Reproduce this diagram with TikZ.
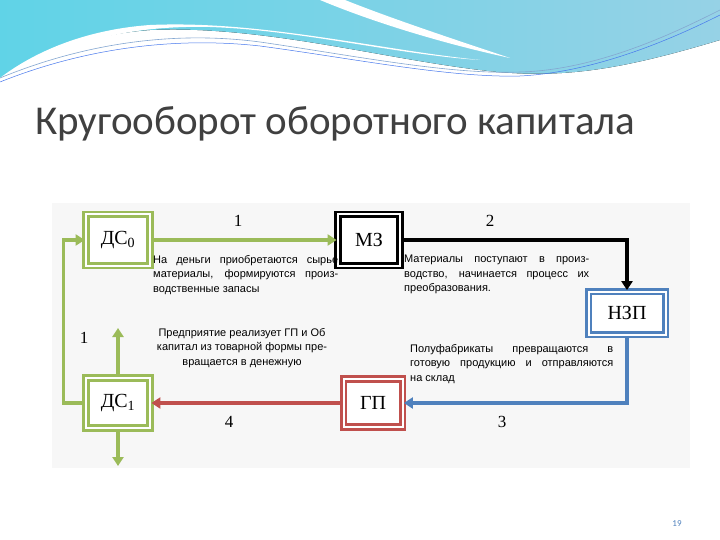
\documentclass[tikz,border=0pt]{standalone}
\usepackage{fontspec}
\setmainfont{Liberation Serif}
\newfontfamily\ttl{Carlito}
\newfontfamily\smf{Liberation Sans}
\usetikzlibrary{arrows.meta,positioning}
\definecolor{gr}{RGB}{155,187,89}
\definecolor{bl}{RGB}{79,129,189}
\definecolor{rd}{RGB}{192,80,77}
\definecolor{cy1}{RGB}{120,200,225}
\definecolor{cy2}{RGB}{150,210,230}
\newcommand{\jl}[2]{\makebox[#1][s]{#2}}
\begin{document}
\begin{tikzpicture}[x=1pt,y=-1pt,
 boxg/.style={double distance=2pt,line width=2.8pt,inner sep=0pt,font=\fontsize{20}{20}\selectfont},
 arr/.style={line width=3.5pt,-{Triangle[length=9pt,width=11pt]}},
 txt/.style={font=\smf\fontsize{11}{14.5}\selectfont,inner sep=0pt,align=left},
 num/.style={font=\fontsize{17}{17}\selectfont}]
\useasboundingbox (0,0) rectangle (720,540);
\fill[white] (0,0) rectangle (720,540);
% top wave
\fill[left color=cy1!80!cyan,right color=cy2] (0,0) -- (720,0) -- (720,40) .. controls (620,70) and (560,80) .. (480,70) .. controls (380,58) and (260,25) .. (150,30) .. controls (80,35) and (30,60) .. (0,80) -- cycle;
\fill[white] (0,85) .. controls (60,45) and (120,25) .. (210,27) .. controls (300,30) and (400,55) .. (480,60) .. controls (380,50) and (260,20) .. (150,25) .. controls (80,30) and (30,55) .. (0,78) -- cycle;
\fill[white] (320,0) .. controls (380,25) and (450,45) .. (510,58) .. controls (450,38) and (390,18) .. (345,0) -- cycle;
\draw[bl!70,line width=0.6pt] (0,78) .. controls (80,45) and (170,30) .. (260,42) .. controls (350,55) and (450,75) .. (520,72) .. controls (600,70) and (680,30) .. (720,10);
\draw[cy1!60!blue,line width=0.5pt] (0,82) .. controls (80,50) and (170,36) .. (260,46) .. controls (350,58) and (450,78) .. (520,76) .. controls (600,72) and (680,35) .. (720,15);
% title
\node[anchor=west,font=\ttl\fontsize{41}{41}\selectfont,text=black!75,inner sep=0pt] (title) at (35,124) {Кругооборот оборотного капитала};
\node[font=\ttl\fontsize{9}{9}\selectfont,text=bl] (pg) at (677,524) {19};
% panel
\fill[black!3] (52,203) rectangle (690,468);
% boxes
\node[boxg,draw=gr,fill=white,minimum width=64pt,minimum height=51pt] (ds0) at (118,240) {ДС\textsubscript{0}};
\node[boxg,draw=black,fill=white,minimum width=62pt,minimum height=51pt] (mz) at (369,240) {МЗ};
\node[boxg,draw=bl,fill=white,minimum width=77pt,minimum height=43pt] (nzp) at (627,313) {НЗП};
\node[boxg,draw=rd,fill=white,minimum width=59pt,minimum height=48pt] (gp) at (373,403) {ГП};
\node[boxg,draw=gr,fill=white,minimum width=64pt,minimum height=50pt] (ds1) at (118,403) {ДС\textsubscript{1}};
\coordinate (up) at (118,328);
\coordinate (dn) at (118,466);
% arrows
\draw[arr,gr] (ds0) -- (mz);
\draw[arr,black] (mz.east) -| (nzp.north);
\draw[arr,bl] (nzp.south) |- (gp.east);
\draw[arr,rd] (gp) -- (ds1);
\draw[arr,gr] (ds1.west) -- ++(-21,0) |- (ds0.west);
\draw[arr,gr] (ds1.north) -- (up);
\draw[arr,gr] (ds1.south) -- (dn);
% numbers
\node[num] (n1) at (238,221) {1};
\node[num] (n2) at (490,221) {2};
\node[num] (n3) at (502,422) {3};
\node[num] (n4) at (229,422) {4};
\node[num] (n5) at (84,338) {1};
% texts
\node[txt,anchor=north west] (t1) at (153,255) {\jl{185pt}{На деньги приобретаются сырье}\\\jl{185pt}{материалы, формируются произ-}\\водственные запасы};
\node[txt,anchor=north west] (t2) at (404,255) {\jl{185pt}{Материалы поступают в произ-}\\\jl{185pt}{водство, начинается процесс их}\\преобразования.};
\node[txt,anchor=north,align=center] (t3) at (242,328) {Предприятие реализует ГП и Об\\капитал из товарной формы пре-\\вращается в денежную};
\node[txt,anchor=north west] (t4) at (410,344) {\jl{203pt}{Полуфабрикаты превращаются в}\\\jl{203pt}{готовую продукцию и отправляются}\\на склад};
\end{tikzpicture}
\end{document}
